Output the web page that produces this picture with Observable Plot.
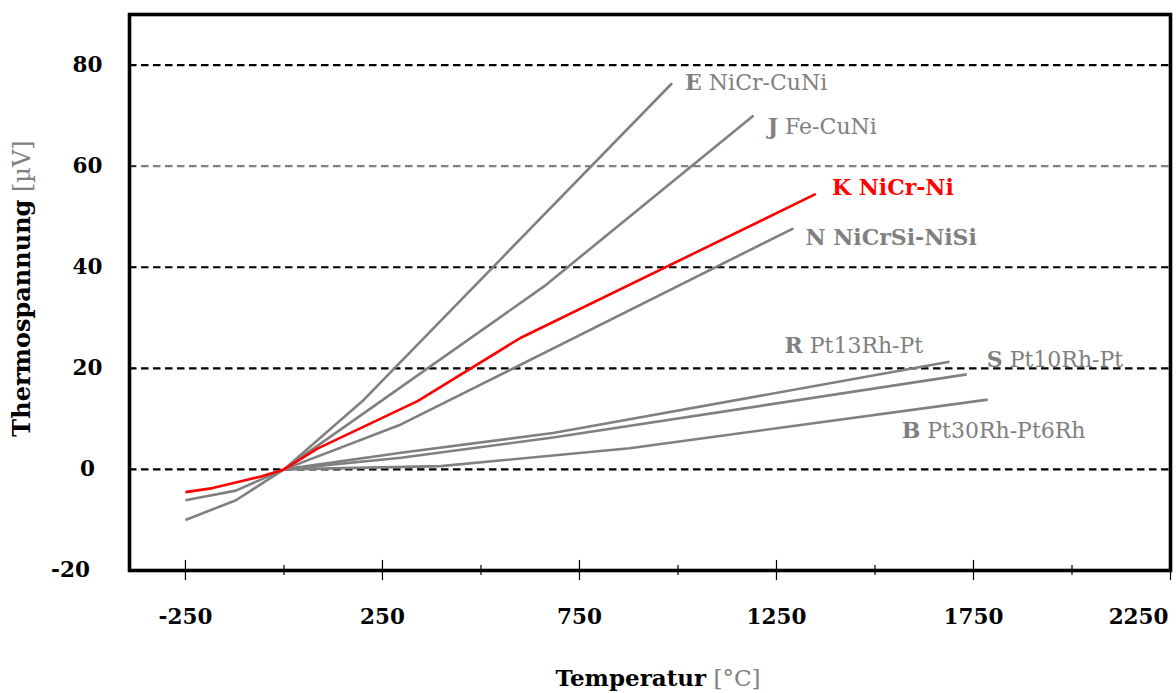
<!DOCTYPE html>
<html>
<head>
<meta charset="utf-8">
<script src="https://cdn.jsdelivr.net/npm/d3@7"></script>
<script src="https://cdn.jsdelivr.net/npm/@observablehq/plot@0.6"></script>
<style>
  html, body { margin: 0; padding: 0; background: #ffffff; }
  #chart { width: 1176px; height: 693px; }
</style>
</head>
<body>
<div id="chart"></div>
<script>
// Thermocouple characteristics: thermoelectric voltage against temperature.
const seriesCodes = ["E", "J", "K", "N", "R", "S", "B"];
const seriesNames = ["NiCr-CuNi", "Fe-CuNi", "NiCr-Ni", "NiCrSi-NiSi", "Pt13Rh-Pt", "Pt10Rh-Pt", "Pt30Rh-Pt6Rh"];

// Curve points per thermocouple type (temperature in °C, voltage)
const tempE = [-250, -122, 0, 203, 985];
const voltE = [-10.0, -6.1, 0, 13.8, 76.4];
const tempJ = [-250, -122, 0, 660, 1192];
const voltJ = [-6.1, -4.2, 0, 36.2, 70.0];
const tempK = [-250, -181, -117, -58, 0, 85, 339, 600, 1350];
const voltK = [-4.5, -3.7, -2.5, -1.4, 0, 4.1, 13.5, 26.0, 54.5];
const tempN = [0, 297, 1293];
const voltN = [0, 8.9, 47.7];
const tempR = [0, 297, 683, 1689];
const voltR = [0, 3.3, 7.2, 21.3];
const tempS = [0, 297, 683, 1733];
const voltS = [0, 2.3, 6.3, 18.8];
const tempB = [0, 398, 877, 1786];
const voltB = [0, 0.65, 4.2, 13.8];

// Axis ticks
const xTickLabels = [-250, 250, 750, 1250, 1750, 2250];
const xMinorTicks = [0, 500, 1000, 1500, 2000];
const yTickLabels = [-20, 0, 20, 40, 60, 80];
const yGridLines = [0, 20, 40, 60, 80];

const xLabel = ["Temperatur", "[°C]"];
const yLabel = ["Thermospannung", "[µV]"];

// ---- layout & styling ----
const xDomain = [-392, 2250];
const yDomain = [-20, 90];
const GRAY = "#808080";
const RED = "#ff0000";
const FONT = "DejaVu Serif";
const highlighted = "K";
const boldNames = new Set(["K", "N"]);
const labelOffset = {
  E: [13, 0], J: [14, 11], K: [16, -6], N: [12, 10],
  R: [-165, -16], S: [20, -14], B: [-86, 31]
};

const temps = {E: tempE, J: tempJ, K: tempK, N: tempN, R: tempR, S: tempS, B: tempB};
const volts = {E: voltE, J: voltJ, K: voltK, N: voltN, R: voltR, S: voltS, B: voltB};

const rows = seriesCodes.flatMap(code =>
  temps[code].map((t, i) => ({code, t, v: volts[code][i]}))
);
// draw the highlighted curve last so it sits on top
rows.sort((a, b) => (a.code === highlighted) - (b.code === highlighted));

const seriesLabel = (code, i) => code + " " + seriesNames[i];

const labelMarks = seriesCodes.map((code, i) => {
  const n = temps[code].length - 1;
  const [dx, dy] = labelOffset[code];
  return Plot.text([{t: temps[code][n], v: volts[code][n], label: seriesLabel(code, i)}], {
    x: "t", y: "v", text: "label", dx, dy,
    textAnchor: "start", lineAnchor: "middle",
    fill: code === highlighted ? RED : GRAY,
    fontSize: 22, fontFamily: FONT
  });
});

const tickFont = {fontWeight: "bold", fontSize: 21.5, fill: "#000"};
const lastX = xTickLabels[xTickLabels.length - 1];
const lowY = yTickLabels[0];

const chart = Plot.plot({
  width: 1176,
  height: 693,
  marginTop: 14,
  marginRight: 6,
  marginBottom: 123,
  marginLeft: 129,
  x: {domain: xDomain, axis: null},
  y: {domain: yDomain, axis: null},
  style: {fontFamily: FONT, background: "#ffffff", color: "#000"},
  marks: [
    // dashed horizontal grid
    Plot.ruleY(yGridLines, {
      y: d => d,
      stroke: d => (d === 60 ? GRAY : "#000"),
      strokeWidth: 2.2,
      strokeDasharray: "7.5,4.5"
    }),
    // curves
    Plot.line(rows, {
      x: "t", y: "v", z: "code",
      stroke: d => (d.code === highlighted ? RED : GRAY),
      strokeWidth: 2.6,
      strokeLinecap: "butt",
      strokeLinejoin: "round"
    }),
    ...labelMarks,
    // tick marks on the bottom edge (major crossing, minor shorter)
    Plot.ruleX(xTickLabels, {x: d => d, y1: yDomain[0] - 2, y2: yDomain[0] + 2, stroke: "#000", strokeWidth: 1.2}),
    Plot.ruleX(xMinorTicks, {x: d => d, y1: yDomain[0] - 1, y2: yDomain[0] + 1, stroke: "#000", strokeWidth: 1.2}),
    // short inward ticks on the left edge
    Plot.ruleY(yTickLabels.filter(d => d > yDomain[0]), {y: d => d, x1: xDomain[0], x2: xDomain[0] + 18, stroke: "#000", strokeWidth: 1.2}),
    Plot.frame({stroke: "#000", strokeWidth: 3.6}),
    // tick labels (the last x label is pulled inside the right edge)
    Plot.text(xTickLabels.filter(d => d !== lastX), {
      x: d => d, text: d => String(d), frameAnchor: "bottom", dy: 47,
      textAnchor: "middle", lineAnchor: "middle", ...tickFont
    }),
    Plot.text([lastX], {
      x: d => d, text: d => String(d), frameAnchor: "bottom", dy: 47, dx: -2,
      textAnchor: "end", lineAnchor: "middle", ...tickFont
    }),
    Plot.text(yTickLabels.filter(d => d !== lowY), {
      y: d => d, text: d => String(d), frameAnchor: "left", dx: -42,
      textAnchor: "middle", lineAnchor: "middle", ...tickFont
    }),
    Plot.text([lowY], {
      y: d => d, text: d => String(d), frameAnchor: "left", dx: -59,
      textAnchor: "middle", lineAnchor: "middle", ...tickFont
    }),
    // axis titles
    Plot.text([xLabel.join(" ")], {
      text: d => d, frameAnchor: "bottom", dy: 108, dx: 8,
      textAnchor: "middle", lineAnchor: "middle",
      fontSize: 23, fill: "#000"
    }),
    Plot.text([yLabel.join(" ")], {
      text: d => d, frameAnchor: "left", dx: -107, dy: -4, rotate: -90,
      textAnchor: "middle", lineAnchor: "middle",
      fontSize: 24, fill: "#000"
    })
  ]
});

document.getElementById("chart").appendChild(chart);

// Split a label into a bold lead word and a trailing part with its own weight/colour
function styleLabel(content, restWeight, restFill) {
  d3.select(chart).selectAll("text").each(function () {
    const el = d3.select(this);
    if (el.text() !== content) return;
    const cut = content.indexOf(" ");
    el.text(null);
    el.append("tspan").attr("font-weight", "bold").text(content.slice(0, cut));
    const rest = el.append("tspan").attr("font-weight", restWeight).text(content.slice(cut));
    if (restFill) rest.attr("fill", restFill);
  });
}
seriesCodes.forEach((code, i) => {
  styleLabel(seriesLabel(code, i), boldNames.has(code) ? "bold" : "normal", null);
});
styleLabel(xLabel.join(" "), "normal", GRAY);
styleLabel(yLabel.join(" "), "normal", GRAY);
</script>
</body>
</html>
